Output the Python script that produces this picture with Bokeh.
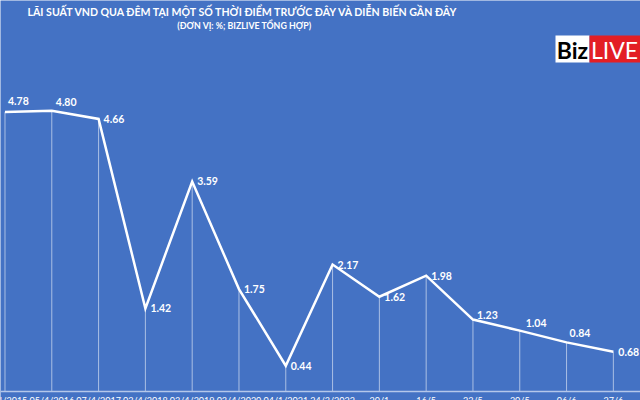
from bokeh.plotting import figure
from bokeh.models import Range1d, Label, BoxAnnotation, Span, ColumnDataSource
from bokeh.core.properties import value
from bokeh.embed import file_html
from bokeh.resources import INLINE

# ---- data ----
dates = ["03/4/2015", "05/4/2016", "07/4/2017", "03/4/2018", "03/4/2019",
         "03/4/2020", "04/1/2021", "24/3/2022", "20/1", "16/5", "23/5",
         "30/5", "06/6", "27/6"]
rates = [4.78, 4.80, 4.66, 1.42, 3.59, 1.75, 0.44, 2.17, 1.62, 1.98, 1.23,
         1.04, 0.84, 0.68]
rate_labels = ["%.2f" % r for r in rates]

# label placement (style)
label_dx = [3, 4, 5, 5, 5, 5, 5, 5, 5, 5, 4, 6, 3, 5]
label_dy = [-11, -9, 0, 0, 0, 0, 0, 0, 0, 0, -5, -8, -9, 0]

BG = "#4472C4"
W, H = 640, 400

idx = list(range(len(rates)))
src = ColumnDataSource(dict(x=idx, y=rates, zero=[0] * len(rates),
                            lab=rate_labels, dx=label_dx, dy=label_dy,
                            ybottom=[0] * len(rates), date=dates))

p = figure(width=W, height=H, output_backend="svg", toolbar_location=None,
           x_range=Range1d(-0.096, 13.58), y_range=Range1d(-0.154, 6.684),
           min_border=0, min_border_left=0, min_border_right=0,
           min_border_top=0, min_border_bottom=0,
           x_axis_type=None, y_axis_type=None)
p.background_fill_color = BG
p.border_fill_color = BG
p.outline_line_color = None
p.grid.visible = False

# drop lines
p.segment(x0="x", y0="zero", x1="x", y1="y", source=src,
          line_color="white", line_alpha=0.55, line_width=1)

# baseline axis
p.add_layout(Span(location=0, dimension="width", line_color="#b4c7ea",
                  line_width=1.5))

# main line
p.line(x="x", y="y", source=src, line_color="white", line_width=2.5,
       line_join="miter")

# value labels
p.text(x="x", y="y", text="lab", source=src, x_offset="dx", y_offset="dy",
       text_color="white", text_font=value("Lato"), text_font_style="bold",
       text_font_size="10.5px", text_baseline="middle", text_align="left")

# category labels (cut at bottom edge as in reference)
p.text(x="x", y="ybottom", text="date", source=src, y_offset=4,
       text_color="white", text_font=value("Lato"), text_font_size="9px",
       text_baseline="top", text_align="center")

# title
p.add_layout(Label(x=27, y=H - 11, x_units="screen", y_units="screen",
                   text="LÃI SUẤT VND QUA ĐÊM TẠI MỘT SỐ THỜI ĐIỂM TRƯỚC ĐÂY VÀ DIỄN BIẾN GẦN ĐÂY",
                   text_color="white", text_font="Lato", text_font_style="bold",
                   text_font_size="10.6px", text_align="left",
                   text_baseline="middle"))
p.add_layout(Label(x=244, y=H - 25, x_units="screen", y_units="screen",
                   text="(ĐƠN VỊ: %; BIZLIVE TỔNG HỢP)",
                   text_color="white", text_font="Lato", text_font_style="bold",
                   text_font_size="8.8px", text_align="center",
                   text_baseline="middle"))

# logo
p.add_layout(BoxAnnotation(left=555, right=589, top=H - 35, bottom=H - 62,
                           left_units="screen", right_units="screen",
                           top_units="screen", bottom_units="screen",
                           fill_color="white", fill_alpha=1, line_color=None))
p.add_layout(BoxAnnotation(left=589, right=642, top=H - 35, bottom=H - 62,
                           left_units="screen", right_units="screen",
                           top_units="screen", bottom_units="screen",
                           fill_color="#E31E24", fill_alpha=1, line_color=None))
p.add_layout(Label(x=572, y=H - 49, x_units="screen", y_units="screen",
                   text="Biz", text_color="black", text_font="Lato",
                   text_font_style="bold", text_font_size="23px",
                   text_align="center", text_baseline="middle"))
p.add_layout(Label(x=614, y=H - 49, x_units="screen", y_units="screen",
                   text="LIVE", text_color="white", text_font="Lato",
                   text_font_size="23px",
                   text_align="center", text_baseline="middle"))

open("out.html", "w").write(file_html(p, INLINE))
